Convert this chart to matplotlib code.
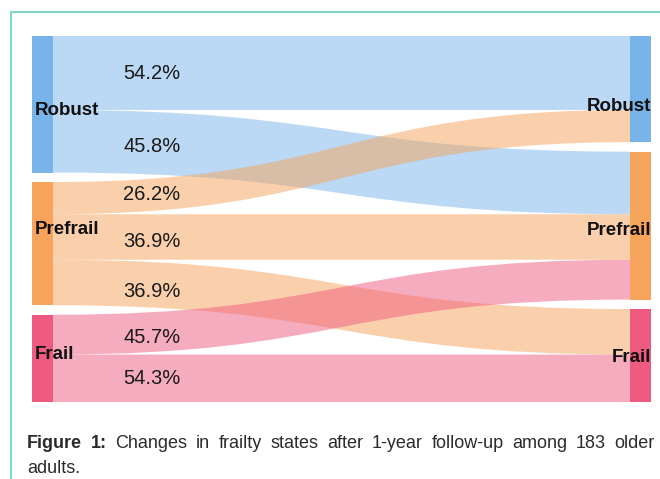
import matplotlib.pyplot as plt
import numpy as np
from matplotlib.path import Path
from matplotlib.patches import PathPatch, Rectangle

plt.rcParams['font.family'] = ['Liberation Sans', 'DejaVu Sans']

# frailty states at baseline (left) and after 1 year (right)
states = ["Robust", "Prefrail", "Frail"]
# rows = baseline state, cols = state after follow-up (number of people, 183 total)
flows = np.array([[39, 33, 0],
                  [17, 24, 24],
                  [0, 21, 25]])
node_colors = ["#78b3ea", "#f6a35b", "#ef5a80"]

caption_bold = "Figure 1:"
caption_text = "Changes in frailty states after 1-year follow-up among 183 older adults."

# layout (pixels)
W, H = 660, 479
top, scale, gap = 36, 1.896, 9.5
xl, xr, nw = 32, 630, 21
pct_x = 123
pct_nudge = [-1, 2, -2, 3, 5, 4, -1]  # small vertical shifts of the % labels, in link order
left_lab_frac = [0.53, 0.37, 0.43]
right_lab_frac = [0.64, 0.52, 0.50]

fig = plt.figure(figsize=(W / 100, H / 100), dpi=100)
ax = fig.add_axes([0, 0, 1, 1])
ax.set_xlim(0, W)
ax.set_ylim(H, 0)
ax.axis('off')

out_tot = flows.sum(axis=1)
in_tot = flows.sum(axis=0)


def stack(tot):
    pos = []
    y = top
    for v in tot:
        pos.append(y)
        y += v * scale + gap
    return pos


left_y = stack(out_tot)
right_y = stack(in_tot)

x0 = xl + nw
x1 = xr
xm = (x0 + x1) / 2

src_off = list(left_y)
dst_off = list(right_y)
pct_size = 14.5
cap_pct = 0.716 * pct_size * 100 / 72

n = 0
for i in range(len(states)):
    for j in range(len(states)):
        v = flows[i, j]
        if v == 0:
            continue
        h = v * scale
        ya, yb = src_off[i], dst_off[j]
        src_off[i] += h
        dst_off[j] += h
        verts = [(x0, ya), (xm, ya), (xm, yb), (x1, yb),
                 (x1, yb + h), (xm, yb + h), (xm, ya + h), (x0, ya + h), (x0, ya)]
        codes = [Path.MOVETO, Path.CURVE4, Path.CURVE4, Path.CURVE4,
                 Path.LINETO, Path.CURVE4, Path.CURVE4, Path.CURVE4, Path.CLOSEPOLY]
        ax.add_patch(PathPatch(Path(verts, codes), facecolor=node_colors[i],
                               alpha=0.5, edgecolor='none', zorder=1))

        # percentage label, placed on the band centre near the left
        t = np.linspace(0, 1, 2001)
        bx = (1 - t) ** 3 * x0 + 3 * (1 - t) ** 2 * t * xm + 3 * (1 - t) * t ** 2 * xm + t ** 3 * x1
        tc = t[np.argmin(np.abs(bx - (pct_x + 29)))]
        yc = ya + (yb - ya) * (3 * tc ** 2 - 2 * tc ** 3) + h / 2 + pct_nudge[n]
        n += 1
        pct = 100 * v / out_tot[i]
        ax.text(pct_x, yc + cap_pct / 2, f"{pct:.1f}%", fontsize=pct_size,
                color='#1a1a1a', ha='left', va='baseline', zorder=4)

lab_size = 13.5
cap_lab = 0.716 * lab_size * 100 / 72
for i, s in enumerate(states):
    hl = out_tot[i] * scale
    hr = in_tot[i] * scale
    ax.add_patch(Rectangle((xl, left_y[i]), nw, hl, facecolor=node_colors[i],
                           edgecolor='none', zorder=2))
    ax.add_patch(Rectangle((xr, right_y[i]), nw, hr, facecolor=node_colors[i],
                           edgecolor='none', zorder=2))
    ax.text(xl + 3, left_y[i] + hl * left_lab_frac[i] + cap_lab / 2, s,
            fontsize=lab_size, fontweight='bold', color='#111111',
            ha='left', va='baseline', zorder=5)
    ax.text(xr + nw, right_y[i] + hr * right_lab_frac[i] + cap_lab / 2, s,
            fontsize=lab_size, fontweight='bold', color='#111111',
            ha='right', va='baseline', zorder=5)

# teal frame
ax.plot([11, 11, W], [H, 12, 12], color='#7fd8c6', lw=1.5, zorder=6,
        solid_capstyle='butt')

# justified caption
cap_size = 13
cx0, cx1 = 27, 655
base0, lead = 448, 25
renderer = fig.canvas.get_renderer()
words = [(w, 'bold') for w in caption_bold.split()] + \
        [(w, 'normal') for w in caption_text.split()]


def width(w, wt):
    tt = ax.text(0, 0, w, fontsize=cap_size, fontweight=wt)
    bw = tt.get_window_extent(renderer).width
    tt.remove()
    return bw


sizes = [width(w, wt) for w, wt in words]
space = 0.278 * cap_size * 100 / 72
lines = []
cur = []
cur_w = 0
for k, (w, wt) in enumerate(words):
    add = sizes[k] + (space if cur else 0)
    if cur and cur_w + add > cx1 - cx0:
        lines.append(cur)
        cur = []
        cur_w = 0
        add = sizes[k]
    cur.append(k)
    cur_w += add
lines.append(cur)

for li, line in enumerate(lines):
    total = sum(sizes[k] for k in line)
    if li < len(lines) - 1 and len(line) > 1:
        sp = (cx1 - cx0 - total) / (len(line) - 1)
    else:
        sp = space
    x = cx0
    for k in line:
        w, wt = words[k]
        ax.text(x, base0 + li * lead, w, fontsize=cap_size, fontweight=wt,
                color='#2b2b2b', ha='left', va='baseline')
        x += sizes[k] + sp

fig.savefig('out.png', dpi=100)
